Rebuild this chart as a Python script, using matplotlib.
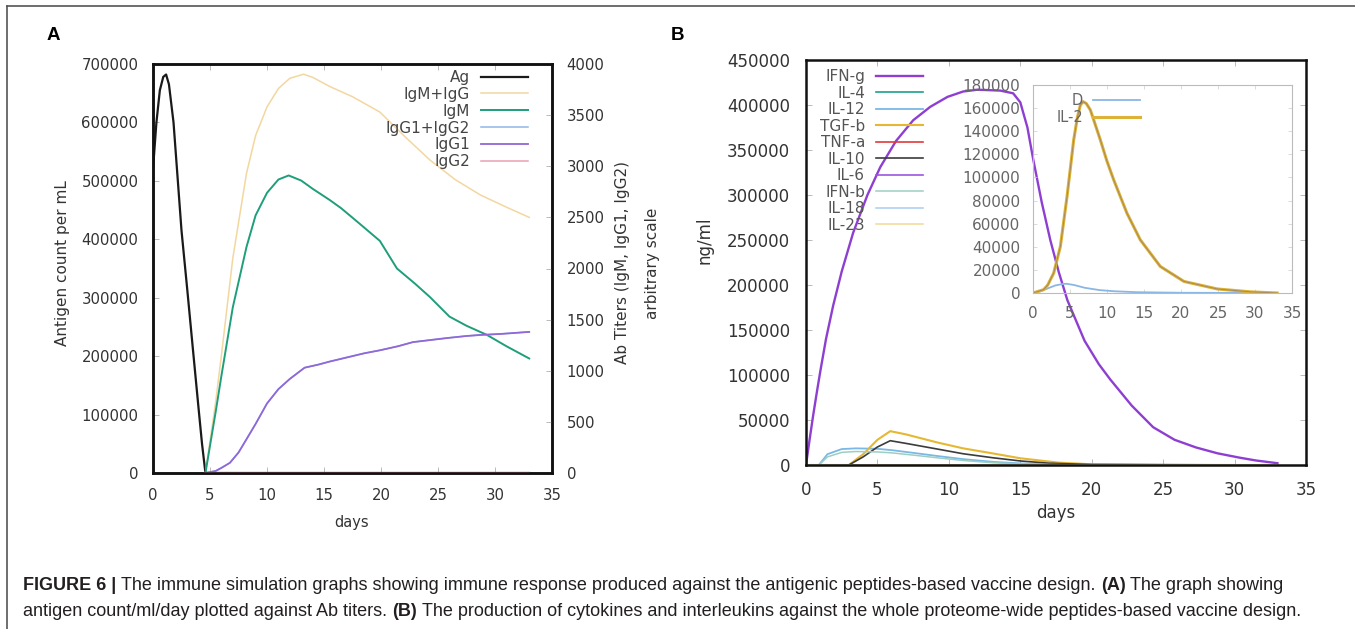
import matplotlib
matplotlib.use("Agg")
import matplotlib.pyplot as plt
from matplotlib.lines import Line2D
from matplotlib.ticker import StrMethodFormatter

W, H = 1355, 629

# ---- pannello A: antigene e titoli anticorpali ----
ag_days = [0, 0.3, 0.6, 0.9, 1.15, 1.4, 1.8, 2.5, 3.0, 3.5, 4.0, 4.3, 4.6, 5.0, 33]
ag_vals = [520000, 600000, 655000, 678000, 682000, 665000, 600000, 415000, 315000,
           212000, 110000, 50000, 0, 0, 0]

igmg_days = [4.6, 5.5, 6.0, 7.0, 8.2, 9.0, 10.0, 11.0, 12.0, 13.2, 14.0, 15.5, 17.5,
             19.9, 22.0, 24.3, 26.5, 28.7, 31.0, 33.0]
igmg_vals = [0, 700, 1150, 2100, 2930, 3300, 3580, 3760, 3860, 3900, 3870, 3780, 3680,
             3530, 3300, 3060, 2870, 2720, 2600, 2500]

igm_days = [4.6, 5.5, 6.0, 7.0, 8.2, 9.0, 10.0, 11.0, 11.9, 13.0, 14.0, 15.5, 16.5, 18.0,
            19.9, 21.4, 23.0, 24.3, 26.0, 27.5, 29.3, 31.0, 33.0]
igm_vals = [0, 600, 950, 1620, 2210, 2520, 2740, 2870, 2910, 2860, 2780, 2670, 2590, 2450,
            2270, 2000, 1850, 1720, 1530, 1440, 1350, 1240, 1120]

igg_days = [4.6, 5.5, 6.0, 6.75, 7.5, 8.2, 9.0, 10.0, 11.0, 12.0, 13.3, 14.5, 15.5, 17.0,
            18.5, 19.9, 21.5, 22.8, 24.3, 25.8, 27.5, 28.7, 30.5, 33.0]
igg1_vals = [0, 20, 50, 100, 200, 330, 480, 680, 820, 920, 1030, 1060, 1090, 1130,
             1170, 1200, 1240, 1280, 1300, 1320, 1340, 1350, 1360, 1380]
igg2_vals = [0] * len(igg_days)
igg12_vals = [a + b for a, b in zip(igg1_vals, igg2_vals)]

# ---- pannello B: citochine ----
ifng_days = [0, 0.25, 0.5, 0.75, 1.0, 1.4, 1.9, 2.5, 3.3, 4.3, 5.2, 6.3, 7.5, 8.7, 9.9,
             11.0, 12.0, 13.6, 14.5, 15.0, 15.5, 15.9, 16.5, 17.1, 17.7, 18.3, 19.5, 20.5,
             21.3, 22.8, 24.3, 25.8, 27.3, 28.8, 30.3, 31.5, 32.7, 33]
ifng_vals = [0, 28000, 55000, 80000, 104000, 140000, 177000, 215000, 258000, 300000,
             331000, 360000, 383000, 398000, 409000, 415000, 417000, 416000, 413000,
             403000, 375000, 340000, 292000, 250000, 214000, 183000, 138000, 112000,
             95000, 66000, 42000, 28000, 19500, 13000, 8300, 5000, 2600, 2000]

tgf_days = [0, 3.0, 4.0, 5.0, 5.9, 7.0, 9.2, 11.0, 13.1, 15.0, 17.7, 20.0, 25, 33]
tgf_vals = [0, 0, 12000, 28000, 37600, 34000, 25000, 18500, 12800, 7500, 2600, 800, 0, 0]

il10_days = [0, 3.0, 4.0, 5.0, 5.9, 7.0, 9.2, 11.0, 13.1, 15.0, 17.0, 20, 33]
il10_vals = [0, 0, 9000, 20000, 27000, 24000, 17700, 12500, 8000, 4500, 2000, 500, 0]

il12_days = [0, 0.9, 1.5, 2.5, 3.5, 5.0, 6.0, 7.5, 9.2, 11.0, 13.1, 15.0, 18.0, 33]
il12_vals = [0, 0, 12000, 17700, 18500, 18000, 16500, 13500, 10000, 6500, 3500, 1800, 500, 0]
ifnb_vals = [0, 0, 9000, 14000, 15000, 14500, 13500, 11000, 8000, 5000, 2500, 1200, 300, 0]

flat_days = [0, 33]
il4_vals = [0, 0]
tnfa_vals = [0, 0]
il6_vals = [0, 0]
il18_vals = [0, 0]
il23_vals = [0, 0]

# inserto
d_days = [0, 1, 2, 3, 4, 4.5, 5.5, 7, 9, 11, 14, 20, 33]
d_vals = [0, 1500, 4000, 6500, 7800, 8000, 7000, 4500, 2500, 1500, 700, 200, 0]
il2_days = [0, 1.44, 2.0, 2.8, 3.7, 4.6, 5.5, 6.0, 6.4, 6.76, 7.2, 7.75, 8.4, 9.1, 10.0,
            10.9, 12.7, 14.5, 17.2, 20.4, 24.9, 29.4, 33]
il2_vals = [0, 2900, 7000, 17300, 40300, 83500, 132500, 152000, 162700, 165600, 164000,
            158400, 146000, 132500, 114000, 98000, 69000, 46000, 23000, 10000, 3500, 1000, 0]


def fx(px):
    return px / W


def fy(py):
    return 1 - py / H


def box(x0, y0, x1, y1):
    return [fx(x0), fy(y1), (x1 - x0) / W, (y1 - y0) / H]


plt.rcParams['font.family'] = ['DejaVu Sans']
fig = plt.figure(figsize=(W / 100, H / 100), dpi=100)

# cornice esterna
fig.add_artist(Line2D([fx(7), 1.0], [fy(6), fy(6)], color='#555555', lw=1.2))
fig.add_artist(Line2D([fx(7), fx(7)], [0.0, fy(6)], color='#555555', lw=1.2))


def stile(ax, size, pad):
    ax.tick_params(direction='in', length=4, width=0.6, color='#b0b0b0',
                   labelsize=size, labelcolor='#333333', pad=pad)
    for s in ax.spines.values():
        s.set_linewidth(1.8)
        s.set_color('#111111')


# ---- A ----
axA = fig.add_axes(box(153, 64, 552, 473))
axA2 = axA.twinx()
lAg, = axA.plot(ag_days, ag_vals, color='#1a1a1a', lw=1.6)
axA.set_xlim(0, 35)
axA.set_ylim(0, 700000)
axA.set_xticks(range(0, 36, 5))
axA.set_yticks(range(0, 700001, 100000))
axA.yaxis.set_major_formatter(StrMethodFormatter('{x:.0f}'))
axA.tick_params(top=True)

l1, = axA2.plot(igmg_days, igmg_vals, color='#f2d7a0', lw=1.1)
l2, = axA2.plot(igm_days, igm_vals, color='#1f9e7a', lw=1.4)
l3, = axA2.plot(igg_days, igg12_vals, color='#8fb7e8', lw=1.1)
l4, = axA2.plot(igg_days, igg1_vals, color='#9068d8', lw=1.3)
l5, = axA2.plot(igg_days, igg2_vals, color='#eaa0b0', lw=1.1)
axA2.set_ylim(0, 4000)
axA2.set_yticks(range(0, 4001, 500))
stile(axA, 10.7, 10.5)
stile(axA2, 10.7, 10.5)

axA2.legend([lAg, l1, l2, l3, l4, l5], ['Ag', 'IgM+IgG', 'IgM', 'IgG1+IgG2', 'IgG1', 'IgG2'],
            loc='upper right', bbox_to_anchor=(fx(528), fy(70)), bbox_transform=fig.transFigure,
            frameon=False, markerfirst=False, fontsize=11, handlelength=3.1,
            handletextpad=0.7, labelspacing=0.12, borderpad=0, borderaxespad=0,
            labelcolor='#444444')

fig.text(fx(62), fy(263), 'Antigen count per mL', rotation=90, ha='center', va='center',
         fontsize=11, color='#333333')
fig.text(fx(623), fy(263), 'Ab Titers (IgM, IgG1, IgG2)', rotation=90, ha='center',
         va='center', fontsize=11, color='#333333')
fig.text(fx(652), fy(263), 'arbitrary scale', rotation=90, ha='center', va='center',
         fontsize=11, color='#333333')
fig.text(fx(352), fy(522), 'days', ha='center', va='center', fontsize=10.5, color='#333333')

# ---- B ----
axB = fig.add_axes(box(806, 60, 1306, 465))
serie_b = [
    ('IFN-g', ifng_days, ifng_vals, '#8e3fd1', 1.7),
    ('IL-4', flat_days, il4_vals, '#1e9f8c', 1.2),
    ('IL-12', il12_days, il12_vals, '#7ab8e6', 1.3),
    ('TGF-b', tgf_days, tgf_vals, '#e6b730', 1.5),
    ('TNF-a', flat_days, tnfa_vals, '#e03a3a', 1.2),
    ('IL-10', il10_days, il10_vals, '#3c3c3c', 1.2),
    ('IL-6', flat_days, il6_vals, '#9b55e0', 1.2),
    ('IFN-b', il12_days, ifnb_vals, '#9ccfc2', 1.1),
    ('IL-18', flat_days, il18_vals, '#a9cdf2', 1.1),
    ('IL-23', flat_days, il23_vals, '#f0da94', 1.1),
]
linee_b = []
for nome, xs, ys, col, lw in serie_b:
    l, = axB.plot(xs, ys, color=col, lw=lw, label=nome)
    linee_b.append(l)
axB.set_xlim(0, 35)
axB.set_ylim(0, 450000)
axB.set_xticks(range(0, 36, 5))
axB.set_yticks(range(0, 450001, 50000))
axB.yaxis.set_major_formatter(StrMethodFormatter('{x:.0f}'))
axB.tick_params(top=True, right=True)
stile(axB, 12, 11.5)
axB.legend(handles=linee_b, loc='upper right', bbox_to_anchor=(fx(923), fy(69)),
           bbox_transform=fig.transFigure, frameon=False, markerfirst=False, fontsize=11,
           handlelength=3.1, handletextpad=0.7, labelspacing=0.1, borderpad=0,
           borderaxespad=0, labelcolor='#555555')
fig.text(fx(705), fy(240), 'ng/ml', rotation=90, ha='center', va='center', fontsize=12,
         color='#333333')
fig.text(fx(1056), fy(513), 'days', ha='center', va='center', fontsize=12, color='#333333')

# inserto
axI = fig.add_axes(box(1033, 85, 1292, 293))
axI.patch.set_alpha(0)
lD, = axI.plot(d_days, d_vals, color='#8ab6e6', lw=1.3)
lIL2, = axI.plot(il2_days, il2_vals, color='#dcb238', lw=2.2)
axI.plot(il2_days, il2_vals, color='#a88a5a', lw=0.7)
axI.set_xlim(0, 35)
axI.set_ylim(0, 180000)
axI.set_xticks(range(0, 36, 5))
axI.set_yticks(range(0, 180001, 20000))
axI.yaxis.set_major_formatter(StrMethodFormatter('{x:.0f}'))
axI.tick_params(direction='in', length=3, width=0.5, color='#cccccc', labelsize=11,
                labelcolor='#666666', pad=9, top=True, right=True)
for s in axI.spines.values():
    s.set_linewidth(0.8)
    s.set_color('#bbbbbb')
axI.legend([lD, lIL2], ['D', 'IL-2'], loc='upper right', bbox_to_anchor=(fx(1140), fy(93)),
           bbox_transform=fig.transFigure, frameon=False, markerfirst=False, fontsize=10.5,
           handlelength=3.2, handletextpad=0.7, labelspacing=0.15, borderpad=0,
           borderaxespad=0, labelcolor='#666666')

# etichette pannelli
fig.text(fx(47), fy(36), 'A', fontsize=13.5, fontweight='bold', family='Liberation Sans',
         va='center', ha='left')
fig.text(fx(671), fy(36), 'B', fontsize=13.5, fontweight='bold', family='Liberation Sans',
         va='center', ha='left')

# didascalia
fs = 13
spazio = 0.278 * fs * 100 / 72
righe = [
    (585, [('FIGURE 6 |', 'bold'),
           ('The immune simulation graphs showing immune response produced against the '
            'antigenic peptides-based vaccine design.', 'normal'),
           ('(A)', 'bold'), ('The graph showing', 'normal')]),
    (611, [('antigen count/ml/day plotted against Ab titers.', 'normal'), ('(B)', 'bold'),
           ('The production of cytokines and interleukins against the whole proteome-wide '
            'peptides-based vaccine design.', 'normal')]),
]
renderer = fig.canvas.get_renderer()
for ypix, pezzi in righe:
    xpix = 23
    for testo, peso in pezzi:
        t = fig.text(fx(xpix), fy(ypix), testo, fontsize=fs, fontweight=peso,
                     family='Liberation Sans', color='#231f20', va='center', ha='left')
        bb = t.get_window_extent(renderer)
        xpix = bb.x1 + spazio

fig.savefig('out.png', dpi=100)
